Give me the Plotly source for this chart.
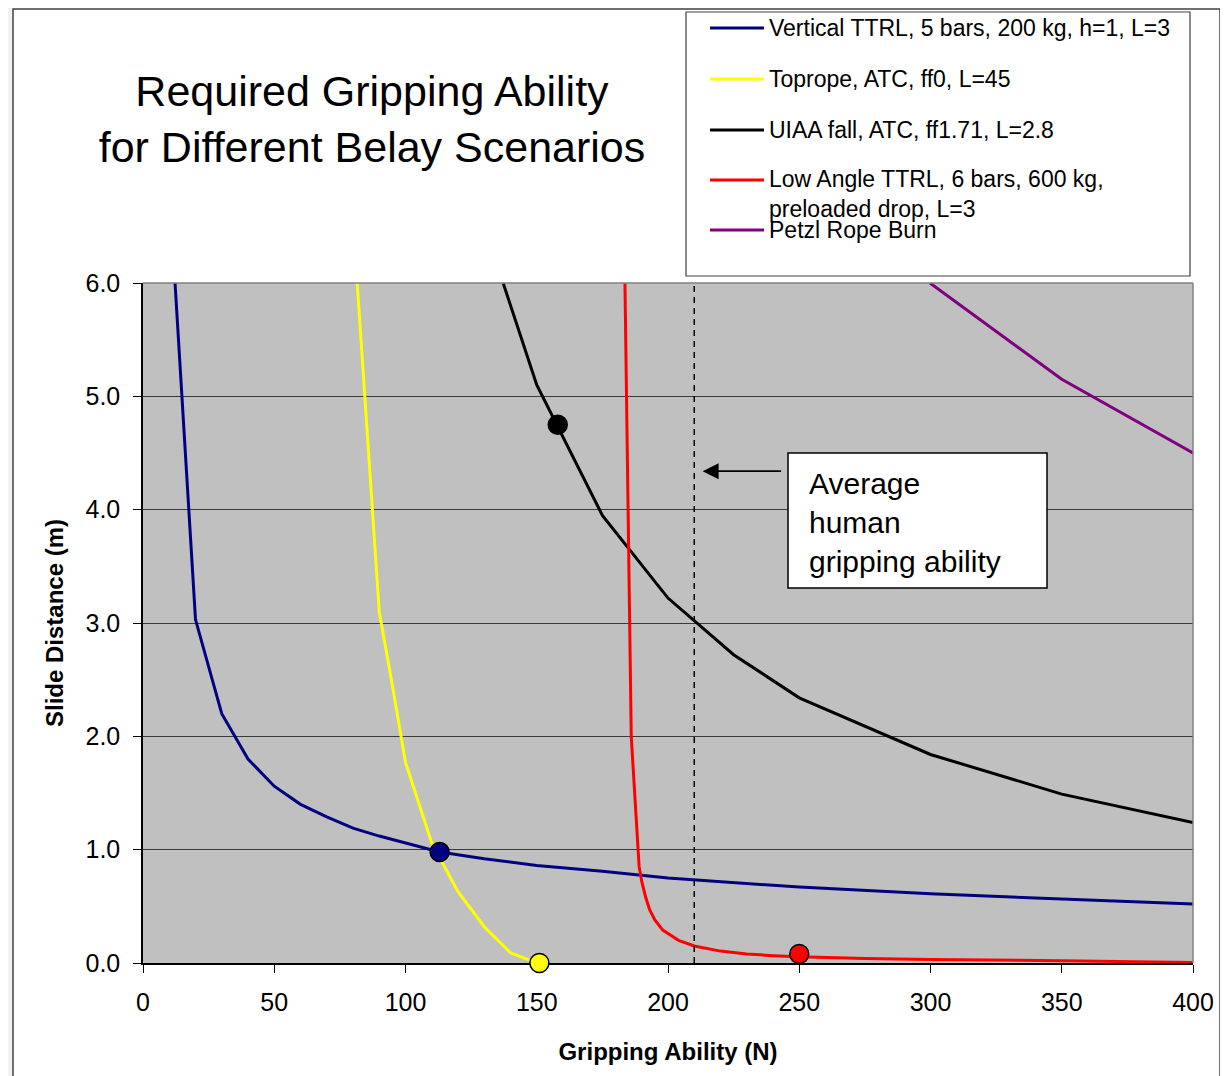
import plotly.graph_objects as go

# ---------------- data ----------------
vert_x = [12.2, 20, 30, 40, 50, 60, 70, 80, 90, 100, 113, 130, 140, 150, 175, 200, 250, 300, 350, 400]
vert_y = [6.0, 3.03, 2.2, 1.8, 1.56, 1.40, 1.29, 1.19, 1.12, 1.06, 0.98, 0.92, 0.89, 0.86, 0.81, 0.75, 0.67, 0.61, 0.565, 0.52]

top_x = [81.6, 90, 95, 100, 110, 120, 130, 140, 150]
top_y = [6.0, 3.1, 2.45, 1.77, 1.06, 0.63, 0.32, 0.09, 0.0]

uiaa_x = [137.2, 140, 150, 175, 200, 225, 250, 300, 350, 400]
uiaa_y = [6.0, 5.8, 5.1, 3.95, 3.22, 2.72, 2.34, 1.84, 1.49, 1.24]

low_x = [183.6, 186, 189, 190, 191.5, 193, 195, 198, 204, 210, 220, 230, 240, 250, 275, 300, 350, 400]
low_y = [6.0, 2.0, 0.85, 0.72, 0.58, 0.47, 0.38, 0.29, 0.20, 0.15, 0.105, 0.08, 0.065, 0.055, 0.04, 0.03, 0.02, 0.005]

petzl_x = [299.8, 350, 400]
petzl_y = [6.0, 5.15, 4.5]

# highlighted operating points
pt_vert = (113, 0.98)
pt_top = (151, 0.0)
pt_uiaa = (158, 4.75)
pt_low = (250, 0.08)

HUMAN_GRIP_N = 210

series_names = [
    "Vertical TTRL, 5 bars, 200 kg, h=1, L=3",
    "Toprope, ATC, ff0, L=45",
    "UIAA fall, ATC, ff1.71, L=2.8",
    "Low Angle TTRL, 6 bars, 600 kg,<br>preloaded drop, L=3",
    "Petzl Rope Burn",
]
series_colors = ["#000080", "#FFFF00", "#000000", "#FF0000", "#800080"]

x_ticks = [0, 50, 100, 150, 200, 250, 300, 350, 400]
y_ticks = [0, 1, 2, 3, 4, 5, 6]

# ---------------- layout geometry ----------------
OFF = 8  # page body margin
W, H = 1228 - OFF, 1076 - OFF
PL, PT, PR, PB = 143, 283, 1193, 963  # plot area in page pixels
ML, MT = PL - OFF, PT - OFF
MR = W - (PR - OFF)
MB = H - (PB - OFF)
PW, PH = PR - PL, PB - PT
FONT = "Arial, Liberation Sans, sans-serif"


def px(xp):
    return (xp - PL) / PW


def py(yp):
    return (PB - yp) / PH


fig = go.Figure()

series = [(vert_x, vert_y), (top_x, top_y), (uiaa_x, uiaa_y), (low_x, low_y), (petzl_x, petzl_y)]
for (xs, ys), name, col in zip(series, series_names, series_colors):
    fig.add_trace(go.Scatter(x=xs, y=ys, mode="lines", name=name.replace("<br>", " "),
                             line=dict(color=col, width=3), showlegend=False))

# average human gripping ability
fig.add_trace(go.Scatter(x=[HUMAN_GRIP_N, HUMAN_GRIP_N], y=[0, 6], mode="lines",
                         line=dict(color="black", width=1.5, dash="6px,5px"), showlegend=False))

for (mx, my), col in zip([pt_vert, pt_top, pt_uiaa, pt_low], series_colors[:4]):
    fig.add_trace(go.Scatter(x=[mx], y=[my], mode="markers", cliponaxis=False,
                             marker=dict(size=19, color=col, line=dict(color="black", width=1.5)),
                             showlegend=False))

shapes = []
annotations = []

# outer frame
for x0, x1, y0, y1 in [(OFF, 12, OFF, 1076), (1221, 1228, OFF, 1076)]:
    shapes.append(dict(type="rect", xref="paper", yref="paper", x0=px(x0), x1=px(x1), y0=py(y1), y1=py(y0),
                       fillcolor="#F2F2F2", line=dict(width=0), layer="below"))
shapes.append(dict(type="rect", xref="paper", yref="paper", x0=px(13), x1=px(1220), y0=py(1090), y1=py(9),
                   line=dict(color="#404040", width=1.5), fillcolor="rgba(0,0,0,0)"))

# plot-area top & right border
shapes.append(dict(type="line", xref="paper", yref="paper", x0=0, x1=1, y0=1, y1=1,
                   line=dict(color="#808080", width=1.5)))
shapes.append(dict(type="line", xref="paper", yref="paper", x0=1, x1=1, y0=0, y1=1,
                   line=dict(color="#808080", width=1.5)))

# legend box
shapes.append(dict(type="rect", xref="paper", yref="paper", x0=px(686), x1=px(1190), y0=py(276), y1=py(12),
                   line=dict(color="#404040", width=1.2), fillcolor="white"))
leg_y = [28, 79, 130, 180, 230]
for name, col, yy in zip(series_names, series_colors, leg_y):
    shapes.append(dict(type="line", xref="paper", yref="paper", x0=px(710), x1=px(764), y0=py(yy), y1=py(yy),
                       line=dict(color=col, width=3)))
    if "<br>" in name:
        annotations.append(dict(xref="paper", yref="paper", x=px(767), y=py(yy - 16), xanchor="left", yanchor="top",
                                text=name, showarrow=False, align="left",
                                font=dict(family=FONT, size=23, color="black")))
    else:
        annotations.append(dict(xref="paper", yref="paper", x=px(767), y=py(yy), xanchor="left", yanchor="middle",
                                text=name, showarrow=False, align="left",
                                font=dict(family=FONT, size=23, color="black")))

# text box for human grip
shapes.append(dict(type="rect", xref="paper", yref="paper", x0=px(788), x1=px(1047), y0=py(588), y1=py(453),
                   line=dict(color="black", width=1.5), fillcolor="white"))
annotations.append(dict(xref="paper", yref="paper", x=px(807), y=py(522), xanchor="left", yanchor="middle",
                        text="Average<br>human<br>gripping ability", showarrow=False, align="left",
                        font=dict(family=FONT, size=30, color="black")))
# arrow
annotations.append(dict(xref="x", yref="y", x=HUMAN_GRIP_N + 3.2, y=4.34, ax=80, ay=0, axref="pixel", ayref="pixel",
                        text="", showarrow=True, arrowhead=2, arrowsize=2, arrowwidth=1.6, arrowcolor="black",
                        standoff=0))

fig.update_layout(
    width=W, height=H,
    margin=dict(l=ML, r=MR, t=MT, b=MB, autoexpand=False),
    paper_bgcolor="white", plot_bgcolor="#C0C0C0",
    font=dict(family=FONT, color="black"),
    title=dict(text="Required Gripping Ability<br>for Different Belay Scenarios",
               x=(372 - OFF) / W, xref="container", xanchor="center",
               y=1 - (119 - OFF - 13) / H, yref="container", yanchor="middle",
               font=dict(family=FONT, size=43, color="black")),
    shapes=shapes, annotations=annotations, showlegend=False,
)
fig.update_xaxes(range=[0, 400], tickvals=x_ticks, ticktext=[str(v) for v in x_ticks],
                 showgrid=False, zeroline=False, showline=True, linecolor="black", linewidth=1.5,
                 ticks="outside", ticklen=8, tickcolor="black", tickwidth=1.2,
                 tickfont=dict(family=FONT, size=25), ticklabelstandoff=8,
                 title=dict(text="<b>Gripping Ability (N)</b>", font=dict(family=FONT, size=24), standoff=28),
                 layer="below traces")
fig.update_yaxes(range=[0, 6], tickvals=y_ticks, ticktext=["%.1f" % v for v in y_ticks],
                 showgrid=True, gridcolor="#3A3A3A", gridwidth=1, zeroline=False,
                 showline=True, linecolor="black", linewidth=1.5,
                 ticks="outside", ticklen=8, tickcolor="black", tickwidth=1.2,
                 tickfont=dict(family=FONT, size=25), ticklabelstandoff=8,
                 title=dict(text="<b>Slide Distance (m)</b>", font=dict(family=FONT, size=24), standoff=15),
                 layer="below traces")

fig.write_html("out.html")
